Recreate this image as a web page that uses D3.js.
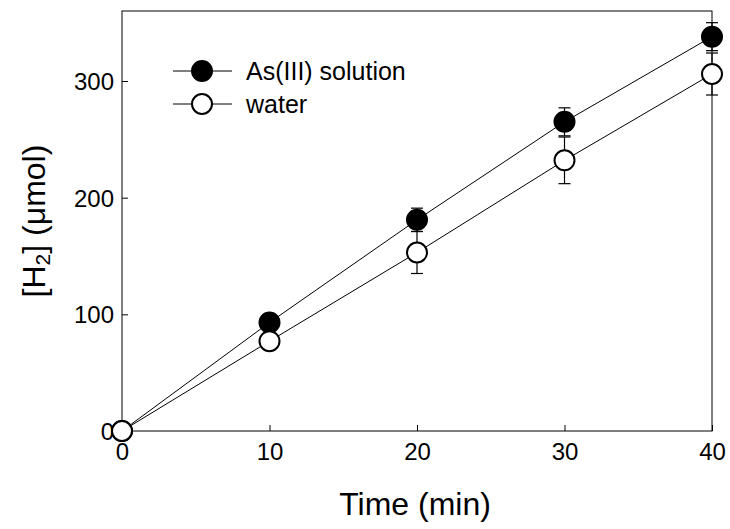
<!DOCTYPE html>
<html>
<head>
<meta charset="utf-8"/>
<script src="https://d3js.org/d3.v7.min.js"></script>
<style>
    body { margin: 0; background: #fff; }
    text { font-family: "Liberation Sans", Arial, sans-serif; fill: #000; }
</style>
</head>
<body>
<svg id="chart" width="730" height="529"></svg>
<script>
    // datos
    const tiempo = [0, 10, 20, 30, 40];
    const arsenico = [0, 93, 181, 265, 338];
    const arsenicoErr = [0, 4, 10, 12, 12];
    const agua = [0, 77, 153, 232, 306];
    const aguaErr = [0, 4, 18, 20, 18];
    const xTicks = [0, 10, 20, 30, 40];
    const yTicks = [0, 100, 200, 300];

    const series = [
        {nombre: "As(III) solution", y: arsenico, err: arsenicoErr, fill: "#000"},
        {nombre: "water", y: agua, err: aguaErr, fill: "#fff"}
    ];

    const margin = {left: 122, top: 11, right: 18, bottom: 98};
    const ancho = 730 - margin.left - margin.right;
    const alto = 529 - margin.top - margin.bottom;

    const svg = d3.select("#chart");
    const g = svg.append("g").attr("transform", `translate(${margin.left},${margin.top})`);

    const x = d3.scaleLinear().domain([0, 40]).range([0, ancho]);
    const y = d3.scaleLinear().domain([0, 360]).range([alto, 0]);

    // marco
    g.append("rect")
        .attr("width", ancho).attr("height", alto)
        .attr("fill", "none").attr("stroke", "#000").attr("stroke-width", 1);

    // ejes con ticks hacia adentro
    const ejeX = g.append("g").attr("transform", `translate(0,${alto})`)
        .call(d3.axisBottom(x).tickValues(xTicks).tickSize(-6).tickPadding(12).tickFormat(d3.format("d")));
    const ejeY = g.append("g")
        .call(d3.axisLeft(y).tickValues(yTicks).tickSize(-6).tickPadding(8).tickFormat(d3.format("d")));
    [ejeX, ejeY].forEach(e => {
        e.select(".domain").remove();
        e.selectAll("line").attr("stroke", "#000");
        e.selectAll("text").style("font-size", "24px").style("font-family", "Liberation Sans, Arial, sans-serif");
    });
    ejeY.selectAll("text").attr("dy", "0.35em");

    const linea = d3.line().x((d, i) => x(tiempo[i])).y(d => y(d));

    series.forEach(s => {
        const sg = g.append("g");
        sg.append("path").datum(s.y)
            .attr("d", linea).attr("fill", "none").attr("stroke", "#000").attr("stroke-width", 1);

        // barras de error
        const eb = sg.selectAll(".err").data(s.y.map((v, i) => ({t: tiempo[i], v: v, e: s.err[i]})).filter(d => d.e > 0))
            .enter().append("g").attr("stroke", "#000").attr("stroke-width", 1.2);
        eb.append("line")
            .attr("x1", d => x(d.t)).attr("x2", d => x(d.t))
            .attr("y1", d => y(d.v + d.e)).attr("y2", d => y(d.v - d.e));
        eb.append("line")
            .attr("x1", d => x(d.t) - 6).attr("x2", d => x(d.t) + 6)
            .attr("y1", d => y(d.v + d.e)).attr("y2", d => y(d.v + d.e));
        eb.append("line")
            .attr("x1", d => x(d.t) - 6).attr("x2", d => x(d.t) + 6)
            .attr("y1", d => y(d.v - d.e)).attr("y2", d => y(d.v - d.e));
        s.g = sg;
    });

    series.forEach(s => {
        s.g.selectAll("circle").data(s.y).enter().append("circle")
            .attr("cx", (d, i) => x(tiempo[i])).attr("cy", d => y(d)).attr("r", 10)
            .attr("fill", s.fill).attr("stroke", "#000").attr("stroke-width", 2);
    });

    // leyenda
    const leyenda = svg.append("g");
    series.forEach((s, i) => {
        const ly = 71 + i * 33;
        leyenda.append("line").attr("x1", 173).attr("x2", 232).attr("y1", ly).attr("y2", ly)
            .attr("stroke", "#000").attr("stroke-width", 1);
        leyenda.append("circle").attr("cx", 202).attr("cy", ly).attr("r", 10)
            .attr("fill", s.fill).attr("stroke", "#000").attr("stroke-width", 2);
        leyenda.append("text").attr("x", 246).attr("y", ly).attr("dy", "0.35em")
            .style("font-size", "25px").text(s.nombre);
    });

    // titulos de ejes
    svg.append("text").attr("x", margin.left + ancho / 2 - 2).attr("y", 515)
        .attr("text-anchor", "middle").style("font-size", "32px").text("Time (min)");

    const ty = svg.append("text")
        .attr("transform", `translate(45,${margin.top + alto / 2}) rotate(-90)`)
        .attr("text-anchor", "middle").style("font-size", "32px");
    ty.append("tspan").text("[H");
    ty.append("tspan").attr("baseline-shift", "-25%").style("font-size", "21px").text("2");
    ty.append("tspan").text("] (μmol)");
</script>
</body>
</html>
